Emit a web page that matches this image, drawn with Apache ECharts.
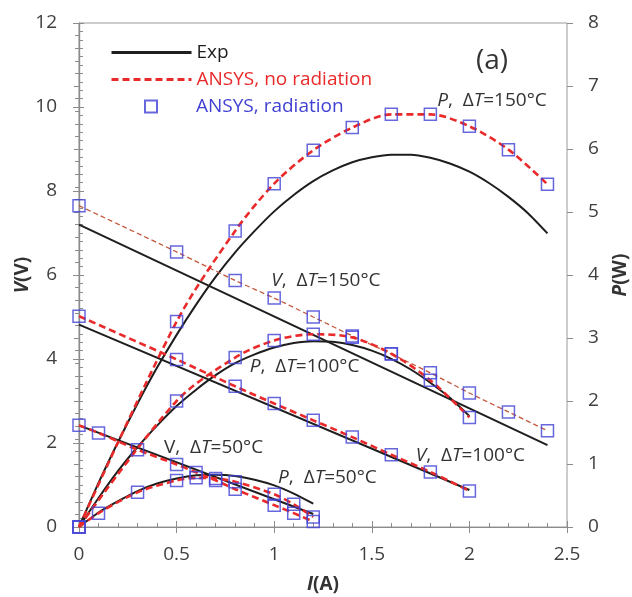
<!DOCTYPE html>
<html>
<head>
<meta charset="utf-8">
<script src="https://cdn.jsdelivr.net/npm/echarts@6/dist/echarts.min.js"></script>
<style>html,body{margin:0;padding:0;background:#fff}#main{width:632px;height:597px}</style>
</head>
<body>
<div id="main"></div>
<script>
var FONT = 'Open Sans';

// Exp, V-I lines (straight)
var iExpV150 = [0, 2.4], vExp150 = [7.20, 1.95];
var iExpV100 = [0, 2.0], vExp100 = [4.82, 0.88];
var iExpV50 = [0, 1.2], vExp50 = [2.42, 0.31];

// Exp, P-I curves
var iExpP150 = [0, 0.1, 0.2, 0.3, 0.4, 0.5, 0.6, 0.7, 0.8, 0.9, 1.0, 1.1, 1.2, 1.3, 1.4, 1.5, 1.6, 1.7, 1.8, 1.9, 2.0, 2.1, 2.2, 2.3, 2.4];
var pExp150 = [0, 0.70, 1.35, 1.96, 2.53, 3.05, 3.53, 3.97, 4.36, 4.70, 5.01, 5.27, 5.49, 5.66, 5.79, 5.87, 5.91, 5.91, 5.86, 5.77, 5.64, 5.46, 5.24, 4.98, 4.66];
var iExpP100 = [0, 0.1, 0.2, 0.3, 0.4, 0.5, 0.6, 0.7, 0.8, 0.9, 1.0, 1.1, 1.2, 1.3, 1.4, 1.5, 1.6, 1.7, 1.8, 1.9, 2.0];
var pExp100 = [0, 0.46, 0.89, 1.27, 1.61, 1.92, 2.18, 2.41, 2.60, 2.74, 2.85, 2.92, 2.95, 2.94, 2.89, 2.80, 2.67, 2.50, 2.29, 2.05, 1.76];
var iExpP50 = [0, 0.1, 0.2, 0.3, 0.4, 0.5, 0.6, 0.7, 0.8, 0.9, 1.0, 1.1, 1.2];
var pExp50 = [0, 0.23, 0.41, 0.57, 0.69, 0.77, 0.82, 0.83, 0.81, 0.75, 0.66, 0.53, 0.37];

// ANSYS points
var iA150 = [0, 0.5, 0.8, 1.0, 1.2, 1.4, 1.6, 1.8, 2.0, 2.2, 2.4];
var vA150 = [7.65, 6.55, 5.87, 5.45, 5.00, 4.55, 4.12, 3.67, 3.19, 2.74, 2.29];
var pA150 = [0, 3.26, 4.70, 5.45, 5.98, 6.34, 6.55, 6.55, 6.36, 5.99, 5.44];
var iA100 = [0, 0.5, 0.8, 1.0, 1.2, 1.4, 1.6, 1.8, 2.0];
var vA100 = [5.02, 3.99, 3.35, 2.94, 2.54, 2.14, 1.72, 1.31, 0.86];
var pA100 = [0, 2.00, 2.69, 2.96, 3.06, 3.01, 2.75, 2.33, 1.74];
var iA50 = [0, 0.1, 0.3, 0.5, 0.6, 0.7, 0.8, 1.0, 1.1, 1.2];
var vA50 = [2.42, 2.24, 1.84, 1.49, 1.30, 1.11, 0.90, 0.52, 0.33, 0.13];
var pA50 = [0, 0.22, 0.55, 0.74, 0.78, 0.77, 0.72, 0.52, 0.36, 0.16];

var xTicks = ['0', '0.5', '1', '1.5', '2', '2.5'];

function pairs(xs, ys) {
  return xs.map(function (x, k) { return [x, ys[k]]; });
}

var RED = '#ea2a2a', BLUE = '#4141d4', BLACK = '#1e1e1e';

function expLine(data, y) {
  return { name: 'Exp', type: 'line', yAxisIndex: y, data: data, symbol: 'none', smooth: 0.2,
    lineStyle: { color: BLACK, width: 2 }, itemStyle: { color: BLACK }, z: 2, silent: true };
}
function ansysLine(data, y, thin) {
  return { name: 'ANSYS, no radiation', type: 'line', yAxisIndex: y, data: data, symbol: 'none', smooth: 0.3,
    lineStyle: thin ? { color: '#c4573a', width: 1.3, type: [5, 3] } : { color: RED, width: 2.6, type: [7, 4] },
    itemStyle: { color: RED }, z: 3, silent: true };
}
function ansysPts(data, y) {
  return { name: 'ANSYS, radiation', type: 'scatter', yAxisIndex: y, data: data, symbol: 'rect', symbolSize: 12,
    itemStyle: { color: 'rgba(255,255,255,0)', borderColor: BLUE, borderWidth: 1.5 }, z: 4, silent: true };
}

var rich = {
  i: { fontFamily: FONT, fontSize: 19, fontStyle: 'italic', color: '#333' },
  n: { fontFamily: FONT, fontSize: 19, color: '#333' }
};
function note(coord, txt) {
  return { coord: coord, symbol: 'circle', symbolSize: 0,
    label: { show: true, position: 'right', distance: 0, formatter: txt, rich: rich } };
}

var chart = echarts.init(document.getElementById('main'));

var expV150 = expLine(pairs(iExpV150, vExp150), 0);
expV150.markPoint = {
  silent: true,
  data: [
    note([1.835, 10.16], '{i|P}{n|,  Δ}{i|T}{n|=150°C}'),
    note([0.985, 5.87], '{i|V}{n|,  Δ}{i|T}{n|=150°C}'),
    note([0.875, 3.81], '{i|P}{n|,  Δ}{i|T}{n|=100°C}'),
    note([1.725, 1.71], '{i|V}{n|,  Δ}{i|T}{n|=100°C}'),
    note([0.435, 1.90], '{n|V,  Δ}{i|T}{n|=50°C}'),
    note([1.02, 1.18], '{i|P}{n|,  Δ}{i|T}{n|=50°C}')
  ]
};

var axisTxt = { fontFamily: FONT, fontSize: 19, color: '#404040' };
var lineGray = { show: true, lineStyle: { color: '#8c8c8c', width: 1.2 } };
var nameRich = {
  i: { fontFamily: FONT, fontSize: 19, fontWeight: 'bold', fontStyle: 'italic', color: '#333' },
  b: { fontFamily: FONT, fontSize: 19, fontWeight: 'bold', color: '#333' }
};
// square centred in an 80-wide icon box
var squareIcon = 'path://M0,6L0.01,6M34,0H46V12H34ZM79.99,6L80,6';

chart.setOption({
  animation: false,
  backgroundColor: '#fff',
  textStyle: { fontFamily: FONT },
  grid: { left: 79, right: 65, top: 23, bottom: 70, outerBoundsMode: 'none', containLabel: false,
    show: true, borderColor: '#9a9a9a', borderWidth: 1 },
  legend: [
    { data: ['Exp'], left: 105, top: 38, itemWidth: 80, itemHeight: 14, selectedMode: false,
      itemStyle: { opacity: 0 }, lineStyle: { width: 3 },
      textStyle: { fontFamily: FONT, fontSize: 19, color: BLACK } },
    { data: ['ANSYS, no radiation'], left: 105, top: 65, itemWidth: 80, itemHeight: 14, selectedMode: false,
      itemStyle: { opacity: 0 }, lineStyle: { width: 3 },
      textStyle: { fontFamily: FONT, fontSize: 19, color: RED } },
    { data: [{ name: 'ANSYS, radiation', icon: squareIcon }], left: 105, top: 92,
      itemWidth: 80, itemHeight: 12, selectedMode: false,
      textStyle: { fontFamily: FONT, fontSize: 19, color: BLUE } }
  ],
  graphic: [
    { type: 'text', left: 476, top: 47, style: { text: '(a)', fontFamily: FONT, fontSize: 28, fill: '#333' } }
  ],
  xAxis: [
    { type: 'value', min: 0, max: 2.5, interval: 0.5,
      name: '{i|I}{b|(A)}', nameLocation: 'middle', nameGap: 48, nameMoveOverlap: false,
      nameTextStyle: { rich: nameRich },
      axisLine: lineGray,
      axisTick: { show: true, inside: true, length: 6, lineStyle: { color: '#8c8c8c' } },
      minorTick: { show: true, splitNumber: 5, length: 4, lineStyle: { color: '#8c8c8c' } },
      axisLabel: Object.assign({ margin: 18, showMinLabel: true, showMaxLabel: true,
        formatter: function (v) { return xTicks[Math.round(v / 0.5)]; } }, axisTxt),
      splitLine: { show: false } },
    { type: 'value', min: 0, max: 2.5, interval: 0.5, position: 'bottom',
      axisLine: { show: false }, axisLabel: { show: false }, splitLine: { show: false },
      axisTick: { show: true, inside: false, length: 6, lineStyle: { color: '#8c8c8c' } } }
  ],
  yAxis: [
    { type: 'value', min: 0, max: 12, interval: 2, position: 'left',
      name: '{i|V}{b|(V)}', nameLocation: 'middle', nameGap: 47, nameMoveOverlap: false,
      nameTextStyle: { rich: nameRich },
      axisLine: lineGray,
      axisTick: { show: true, inside: true, length: 5, lineStyle: { color: '#8c8c8c' } },
      minorTick: { show: true, splitNumber: 10, length: 4, lineStyle: { color: '#8c8c8c' } },
      axisLabel: Object.assign({ margin: 22, showMinLabel: true, showMaxLabel: true }, axisTxt),
      splitLine: { show: false } },
    { type: 'value', min: 0, max: 8, interval: 1, position: 'right',
      name: '{i|P}{b|(W)}', nameLocation: 'middle', nameGap: 44, nameMoveOverlap: false,
      nameTextStyle: { rich: nameRich },
      axisLine: lineGray,
      axisTick: { show: true, inside: true, length: 5, lineStyle: { color: '#8c8c8c' } },
      minorTick: { show: true, splitNumber: 5, length: 4, lineStyle: { color: '#8c8c8c' } },
      axisLabel: Object.assign({ margin: 21, showMinLabel: true, showMaxLabel: true }, axisTxt),
      splitLine: { show: false } },
    { type: 'value', min: 0, max: 12, interval: 2, position: 'left',
      axisLine: { show: false }, axisLabel: { show: false }, splitLine: { show: false },
      axisTick: { show: true, inside: false, length: 6, lineStyle: { color: '#8c8c8c' } } },
    { type: 'value', min: 0, max: 8, interval: 1, position: 'right',
      axisLine: { show: false }, axisLabel: { show: false }, splitLine: { show: false },
      axisTick: { show: true, inside: false, length: 6, lineStyle: { color: '#8c8c8c' } } }
  ],
  series: [
    expV150,
    expLine(pairs(iExpV100, vExp100), 0),
    expLine(pairs(iExpV50, vExp50), 0),
    expLine(pairs(iExpP150, pExp150), 1),
    expLine(pairs(iExpP100, pExp100), 1),
    expLine(pairs(iExpP50, pExp50), 1),
    ansysLine(pairs(iA100, vA100), 0),
    ansysLine(pairs(iA150, vA150), 0, true),
    ansysLine(pairs(iA50, vA50), 0),
    ansysLine(pairs(iA150, pA150), 1),
    ansysLine(pairs(iA100, pA100), 1),
    ansysLine(pairs(iA50, pA50), 1),
    ansysPts(pairs(iA150, vA150), 0),
    ansysPts(pairs(iA100, vA100), 0),
    ansysPts(pairs(iA50, vA50), 0),
    ansysPts(pairs(iA150, pA150), 1),
    ansysPts(pairs(iA100, pA100), 1),
    ansysPts(pairs(iA50, pA50), 1)
  ]
});
</script>
</body>
</html>
